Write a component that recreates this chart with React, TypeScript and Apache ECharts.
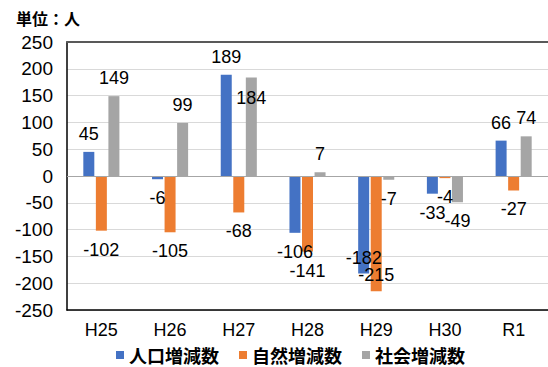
import React, { useEffect, useRef } from "react";
import * as echarts from "echarts";

const categories = ["H25", "H26", "H27", "H28", "H29", "H30", "R1"];
const population = [45, -6, 189, -106, -182, -33, 66];
const natural = [-102, -105, -68, -141, -215, -4, -27];
const social = [149, 99, 184, 7, -7, -49, 74];
const seriesNames = ["人口増減数", "自然増減数", "社会増減数"];
const colors = ["#4472C4", "#ED7D31", "#A5A5A5"];
const yTicks = { min: -250, max: 250, interval: 50 };

// label placement exceptions (series index, data index) -> style
const labelOverrides: Record<string, any> = {
  "2-2": { position: "insideTop", distance: 12 },
  "0-4": { position: "bottom", distance: -25 },
  "1-4": { position: "bottom", distance: -25 },
};

export default function App() {
  const ref = useRef<HTMLDivElement>(null);
  useEffect(() => {
    if (!ref.current) return;
    const chart = echarts.init(ref.current, undefined, { renderer: "svg" });
    const all = [population, natural, social];
    const series = all.map((vals, si) => ({
      name: seriesNames[si],
      type: "bar",
      barWidth: 11,
      barGap: "14%",
      itemStyle: { color: colors[si] },
      data: vals.map((v, di) => {
        const o = labelOverrides[`${si}-${di}`];
        return {
          value: v,
          label: {
            show: true,
            position: v >= 0 ? "top" : "bottom",
            distance: v >= 0 ? 9 : 10,
            ...(o || {}),
          },
        };
      }),
      label: {
        show: true,
        color: "#000",
        fontSize: 18,
        fontFamily: "Liberation Sans, Arial, sans-serif",
      },
      ...(si === 0
        ? {
            markLine: {
              silent: true,
              symbol: "none",
              label: { show: false },
              lineStyle: { color: "#a6a6a6", width: 1, type: "solid" },
              data: [{ yAxis: 0 }],
            },
          }
        : {}),
    }));
    chart.setOption({
      animation: false,
      title: {
        text: "単位：人",
        left: 11,
        top: 5,
        textStyle: {
          fontSize: 16,
          fontWeight: "bold",
          color: "#000",
          fontFamily: "Noto Sans CJK JP",
        },
      },
      legend: {
        left: 116,
        top: 345,
        itemWidth: 8,
        itemHeight: 8,
        itemGap: 20,
        icon: "rect",
        padding: 0,
        textStyle: {
          fontSize: 18,
          lineHeight: 20,
          fontWeight: "bold",
          color: "#000",
          fontFamily: "Noto Sans CJK JP",
        },
        data: seriesNames,
      },
      grid: { left: 67, top: 42, width: 488, height: 268 },
      xAxis: [
        {
          type: "category",
          data: categories,
          position: "bottom",
          axisLine: { onZero: false, lineStyle: { color: "#000", width: 1.5 } },
          axisTick: { show: false },
          axisLabel: {
            color: "#000",
            fontSize: 18,
            margin: 11,
            fontFamily: "Liberation Sans, Arial, sans-serif",
          },
        },
        {
          type: "category",
          data: categories,
          position: "top",
          axisLine: { onZero: false, lineStyle: { color: "#595959", width: 2 } },
          axisTick: { show: false },
          axisLabel: { show: false },
        },
      ],
      yAxis: {
        type: "value",
        min: yTicks.min,
        max: yTicks.max,
        interval: yTicks.interval,
        axisLine: { show: true, lineStyle: { color: "#000", width: 1.5 } },
        axisTick: { show: false },
        splitLine: { lineStyle: { color: "#d9d9d9", width: 1 } },
        axisLabel: {
          color: "#000",
          fontSize: 19,
          margin: 14,
          fontFamily: "Liberation Sans, Arial, sans-serif",
        },
      },
      series,
    });
    return () => chart.dispose();
  }, []);
  return (
    <div
      ref={ref}
      style={{ position: "fixed", left: 0, top: 0, width: 548, height: 367, background: "#fff" }}
    />
  );
}
